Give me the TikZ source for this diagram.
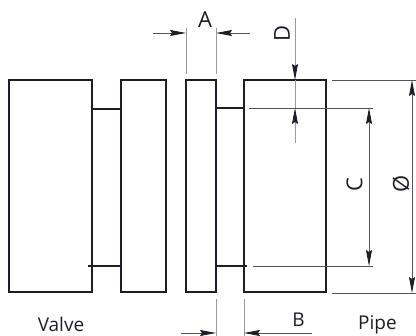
\documentclass[tikz,border=0pt]{standalone}
\usepackage{fontspec}
\setmainfont{Open Sans}
\usetikzlibrary{arrows.meta}
\definecolor{ink}{HTML}{1F1E28}
\definecolor{dimc}{HTML}{555555}
\definecolor{extc}{HTML}{9A9A9A}
\tikzset{
  part/.style={draw=ink, line width=2.7pt},
  link/.style={draw=ink, line width=2.7pt},
  dimline/.style={draw=dimc, line width=0.9pt},
  extline/.style={draw=extc, line width=0.9pt},
  tip/.style={-{Stealth[length=16pt,width=6pt,inset=2pt,color=ink]}},
  both/.style={{Stealth[length=16pt,width=6pt,inset=2pt,color=ink]}-{Stealth[length=16pt,width=6pt,inset=2pt,color=ink]}},
  biglab/.style={font=\fontsize{22}{24}\selectfont, text=ink, inner sep=0pt},
  lab/.style={font=\fontsize{19}{21}\selectfont, text=ink, inner sep=0pt},
}
\begin{document}
\begin{tikzpicture}[x=1pt,y=-1pt]
\useasboundingbox (0,0) rectangle (416,336);
% parts
\draw[part] (9,80) rectangle (92,292);
\draw[part] (121,80) rectangle (166,292);
\draw[part] (186,80) rectangle (216,292);
\draw[part] (244,80) rectangle (326,292);
% links
\coordinate (l1a) at (92,109); \coordinate (l1b) at (121,109);
\coordinate (l2a) at (88,266); \coordinate (l2b) at (121,266);
\coordinate (l3a) at (216,108); \coordinate (l3b) at (244,108);
\coordinate (l4a) at (216,266); \coordinate (l4b) at (247,266);
\draw[link] (l1a) -- (l1b);
\draw[link] (l2a) -- (l2b);
\draw[link] (l3a) -- (l3b);
\draw[link] (l4a) -- (l4b);
% A dimension
\coordinate (ea1) at (186,28); \coordinate (ea1b) at (186,74);
\coordinate (ea2) at (216,28); \coordinate (ea2b) at (216,74);
\draw[extline] (ea1) -- (ea1b);
\draw[extline] (ea2) -- (ea2b);
\coordinate (a0) at (153,33); \coordinate (a1) at (186,33);
\coordinate (a2) at (216,33); \coordinate (a3) at (250,33);
\draw[dimline,tip] (a0) -- (a1);
\draw[dimline,tip] (a3) -- (a2);
\node[biglab] (A) at (205,20) {A};
% B dimension
\coordinate (eb1) at (216,299); \coordinate (eb1b) at (216,336);
\coordinate (eb2) at (244,299); \coordinate (eb2b) at (244,336);
\draw[extline] (eb1) -- (eb1b);
\draw[extline] (eb2) -- (eb2b);
\coordinate (b0) at (181,333); \coordinate (b1) at (216,333);
\coordinate (b2) at (244,333); \coordinate (b3) at (312,333);
\draw[dimline,tip] (b0) -- (b1);
\draw[dimline,tip] (b3) -- (b2);
\node[lab] (B) at (298.5,319.5) {B};
% D dimension
\coordinate (d0) at (295,18); \coordinate (d1) at (295,80);
\coordinate (d2) at (295,108); \coordinate (d3) at (295,143);
\draw[extline] (d1) -- (d2);
\draw[extline,tip] (d0) -- (d1);
\draw[extline,tip] (d3) -- (d2);
\node[biglab,rotate=90] (D) at (282,33.5) {D};
% C dimension
\coordinate (c0) at (249,108); \coordinate (c0b) at (373,108);
\coordinate (c1) at (253,266); \coordinate (c1b) at (373,266);
\draw[dimline] (c0) -- (c0b);
\draw[dimline] (c1) -- (c1b);
\coordinate (ct) at (369,108); \coordinate (cb) at (369,266);
\draw[dimline,both] (ct) -- (cb);
\node[biglab,rotate=90] (C) at (354.5,185) {C};
% diameter
\coordinate (o0) at (332,80); \coordinate (o0b) at (416,80);
\coordinate (o1) at (332,293); \coordinate (o1b) at (416,293);
\draw[dimline] (o0) -- (o0b);
\draw[dimline] (o1) -- (o1b);
\coordinate (ot) at (412,80); \coordinate (ob) at (412,293);
\draw[dimline,both] (ot) -- (ob);
\node[biglab,rotate=90] (O) at (401,184) {Ø};
% labels
\node[lab,anchor=base] (valve) at (61,332) {Valve};
\node[lab,anchor=base] (pipe) at (377.5,330) {Pipe};
\end{tikzpicture}
\end{document}
